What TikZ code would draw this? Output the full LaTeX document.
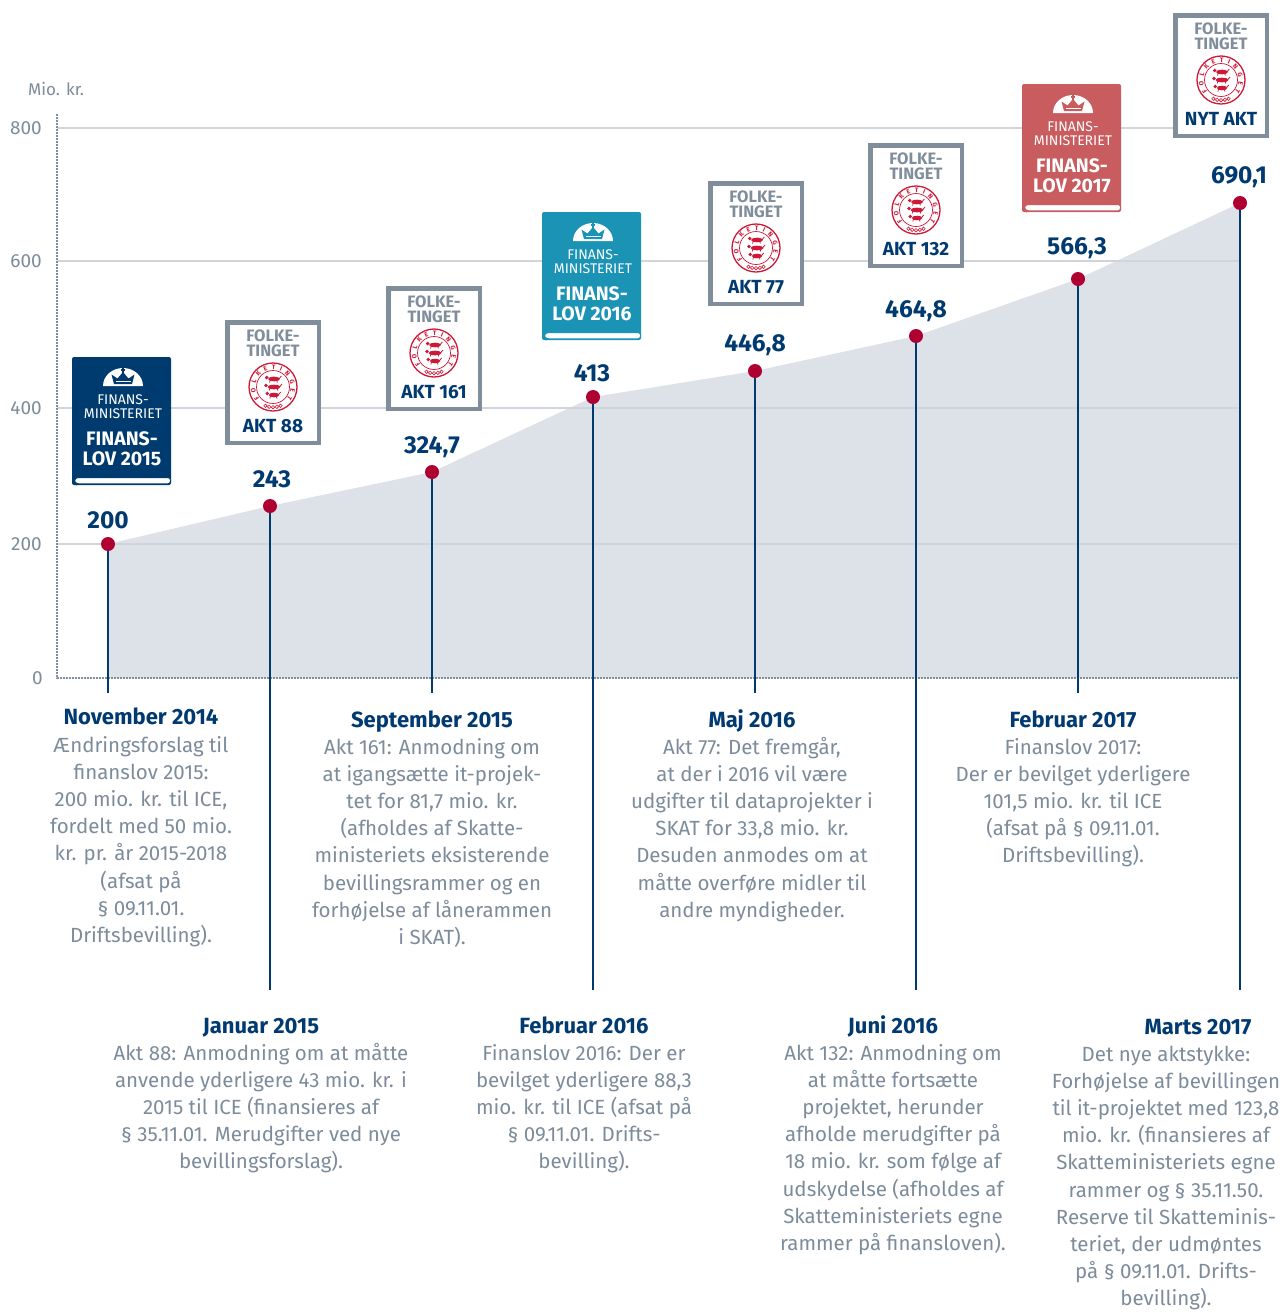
\documentclass[tikz,border=0pt]{standalone}
\usepackage{fontspec}
\setmainfont{Fira Sans}
\usetikzlibrary{decorations.text}
\definecolor{navy}{RGB}{0,58,112}
\definecolor{greytext}{RGB}{125,140,155}
\definecolor{dotred}{RGB}{175,0,50}
\definecolor{areafill}{RGB}{221,225,232}
\definecolor{gridc}{RGB}{208,213,220}
\definecolor{frame}{RGB}{128,142,156}
\definecolor{bookdark}{RGB}{0,59,111}
\definecolor{bookteal}{RGB}{27,147,181}
\definecolor{bookred}{RGB}{200,92,95}
\definecolor{sealred}{RGB}{205,25,55}
\tikzset{
  body/.style={font=\fontsize{20.5}{27.2}\selectfont, text=greytext, align=center, inner sep=0pt, anchor=base},
  ttl/.style={font=\fontsize{22}{24}\selectfont\bfseries, text=navy, inner sep=0pt, anchor=base},
  val/.style={font=\fontsize{24.5}{26}\selectfont\bfseries, text=navy, inner sep=0pt, anchor=base},
  axl/.style={font=\fontsize{19}{20}\selectfont, text=greytext, inner sep=0pt, anchor=base east},
  stem/.style={navy, line width=2.4pt},
  dot/.style={circle, fill=dotred, inner sep=0pt, minimum size=14pt},
  gridline/.style={gridc, line width=1.6pt},
  axisdot/.style={frame, line width=2.2pt, dash pattern=on 1.6pt off 1.4pt},
  bktxt/.style={font=\fontsize{14}{14}\selectfont, text=white, align=center, inner sep=0pt, anchor=base},
  bkbold/.style={font=\fontsize{19.5}{19.5}\selectfont\bfseries, text=white, align=center, inner sep=0pt, anchor=base},
  fttxt/.style={font=\fontsize{16.5}{14.8}\selectfont\bfseries, text=frame, align=center, inner sep=0pt, anchor=base},
  akttxt/.style={font=\fontsize{19}{20}\selectfont\bfseries, text=navy, inner sep=0pt, anchor=base},
}
% book icon: x, y, colour, year, name
\newcommand{\fmbook}[5]{%
\begin{scope}[shift={(#1,#2)}]
  \fill[#3, rounded corners=2pt] (0,0) rectangle (99,128);
  \filldraw[fill=white, draw=#3, line width=1pt, rounded corners=2.5pt] (98.5,120.5) -- (4,120.5) -- (2,123.7) -- (4,126.8) -- (98.5,126.8) -- cycle;
  \fill[white] (31,29) arc[start angle=180, end angle=360, x radius=20, y radius=18] -- cycle;
  \fill[#3] (42,27) -- (39.5,17.5) -- (45.5,21.5) -- (51,15) -- (56.5,21.5) -- (62.5,17.5) -- (60,27) -- cycle;
  \fill[white] (43.5,23.5) rectangle (58.5,24.6);
  \fill[#3] (50.3,11) rectangle (51.7,16);
  \fill[#3] (49,12.4) rectangle (53,13.6);
  \node[bktxt] (#5a) at (51,61) {FINANS-\\MINISTERIET};
  \node[bkbold] (#5b) at (50,108) {FINANS-\\LOV #4};
\end{scope}}
% seal of Folketinget
\newcommand{\seal}[2]{%
\begin{scope}[shift={(#1,#2)}]
  \draw[sealred, line width=1.3pt] (0,0) circle[radius=24];
  \draw[sealred, line width=0.7pt] (0,0) circle[radius=16.5];
  \path[decorate, decoration={text along path, text align=fit to path, text color=sealred,
     text={|\fontsize{6.5}{6.5}\selectfont\bfseries|FOLKETINGET}}]
     (140:17.6) arc[start angle=140, end angle=400, radius=17.6];
  \foreach \a in {68,79,90,101,112} \draw[sealred, line width=0.6pt] (\a:20.2) circle[radius=1.7];
  \foreach \yy/\w in {-8/9,0/10,8/8}{
    \fill[sealred] (1,\yy) ellipse[x radius=\w*0.65, y radius=2.3];
    \fill[sealred] (-\w*0.65-0.5,\yy-1.5) circle[radius=1.9];
    \draw[sealred, line width=0.8pt] (\w*0.65,\yy) -- (\w*0.65+2.5,\yy-3);
    \draw[sealred, line width=0.7pt] (-\w*0.3,\yy+1) -- (-\w*0.3-0.8,\yy+3.5);
    \draw[sealred, line width=0.7pt] (\w*0.4,\yy+1) -- (\w*0.4+0.8,\yy+3.5);
  }
\end{scope}}
% Folketinget box: x, y, label, name
\newcommand{\ftbox}[4]{%
\begin{scope}[shift={(#1,#2)}]
  \filldraw[fill=white, draw=frame, line width=4.5pt] (2.25,2.25) rectangle (93.75,122.75);
  \node[fttxt] (#4a) at (48,36) {FOLKE-\\TINGET};
  \seal{48}{67}
  \node[akttxt] (#4b) at (48,112.5) {#3};
\end{scope}}
\begin{document}
\begin{tikzpicture}[x=1pt,y=-1pt]
\useasboundingbox (0,0) rectangle (1282,1312);
\fill[white] (0,0) rectangle (1282,1312);
% data points
\coordinate (p1) at (108,544);
\coordinate (p2) at (270,506);
\coordinate (p3) at (432,472);
\coordinate (p4) at (593,397);
\coordinate (p5) at (755,371);
\coordinate (p6) at (916,336);
\coordinate (p7) at (1078,279);
\coordinate (p8) at (1240,203);
\coordinate (b1) at (108,678);
\coordinate (b8) at (1240,678);
% area
\fill[areafill] (b1) -- (p1) -- (p2) -- (p3) -- (p4) -- (p5) -- (p6) -- (p7) -- (p8) -- (b8) -- cycle;
% grid
\foreach \yy in {128,261,408,544} \draw[gridline] (57,\yy) -- (1240,\yy);
\draw[axisdot] (57,114) -- (57,678) -- (1240,678);
% axis labels
\node[font=\fontsize{17}{20}\selectfont, text=greytext, inner sep=0pt, anchor=base west] (unit) at (28,95) {Mio. kr.};
\node[axl] (a800) at (42,134.5) {800};
\node[axl] (a600) at (42,267.5) {600};
\node[axl] (a400) at (42,414.5) {400};
\node[axl] (a200) at (42,550.5) {200};
\node[axl] (a0) at (43,684.5) {0};
% stems
\coordinate (e1) at (108,693);
\coordinate (e2) at (270,990);
\coordinate (e3) at (432,693);
\coordinate (e4) at (593,990);
\coordinate (e5) at (755,693);
\coordinate (e6) at (916,990);
\coordinate (e7) at (1078,693);
\coordinate (e8) at (1240,990);
\foreach \i in {1,...,8} \draw[stem] (p\i) -- (e\i);
\foreach \i in {1,...,8} \node[dot] (d\i) at (p\i) {};
% values
\node[val] (v1) at (108,528.5) {200};
\node[val] (v2) at (272,487.5) {243};
\node[val] (v3) at (432,453.5) {324,7};
\node[val] (v4) at (592,381.5) {413};
\node[val] (v5) at (755,351.5) {446,8};
\node[val] (v6) at (916,317.5) {464,8};
\node[val] (v7) at (1077,254.5) {566,3};
\node[val] (v8) at (1239,183.5) {690,1};
% icons
\fmbook{72}{357}{bookdark}{2015}{fl15}
\ftbox{225}{320}{AKT 88}{ak88}
\ftbox{386}{286}{AKT 161}{ak161}
\fmbook{542}{212}{bookteal}{2016}{fl16}
\ftbox{708}{181}{AKT 77}{ak77}
\ftbox{868}{143}{AKT 132}{ak132}
\fmbook{1022}{84}{bookred}{2017}{fl17}
\ftbox{1173}{13}{NYT AKT}{aknyt}
% upper texts (anchor = baseline of last line)
\node[ttl] (t1) at (141,724) {November 2014};
\node[body] (b1t) at (141,942.4) {Ændringsforslag til\\finanslov 2015:\\200 mio. kr. til ICE,\\fordelt med 50 mio.\\kr. pr. år 2015-2018\\(afsat på\\§ 09.11.01.\\Driftsbevilling).};
\node[ttl] (t3) at (432,727) {September 2015};
\node[body] (b3t) at (432,944.4) {Akt 161: Anmodning om\\at igangsætte it-projek-\\tet for 81,7 mio. kr.\\(afholdes af Skatte-\\ministeriets eksisterende\\bevillingsrammer og en\\forhøjelse af lånerammen\\i SKAT).};
\node[ttl] (t5) at (752,727) {Maj 2016};
\node[body] (b5t) at (752,917.2) {Akt 77: Det fremgår,\\at der i 2016 vil være\\udgifter til dataprojekter i\\SKAT for 33,8 mio. kr.\\Desuden anmodes om at\\måtte overføre midler til\\andre myndigheder.};
\node[ttl] (t7) at (1073,727) {Februar 2017};
\node[body] (b7t) at (1073,862.8) {Finanslov 2017:\\Der er bevilget yderligere\\101,5 mio. kr. til ICE\\(afsat på § 09.11.01.\\Driftsbevilling).};
% lower texts
\node[ttl] (t2) at (261,1033) {Januar 2015};
\node[body] (b2t) at (261,1168.8) {Akt 88: Anmodning om at måtte\\anvende yderligere 43 mio. kr. i\\2015 til ICE (finansieres af\\§ 35.11.01. Merudgifter ved nye\\bevillingsforslag).};
\node[ttl] (t4) at (584,1033) {Februar 2016};
\node[body] (b4t) at (584,1168.8) {Finanslov 2016: Der er\\bevilget yderligere 88,3\\mio. kr. til ICE (afsat på\\§ 09.11.01. Drifts-\\bevilling).};
\node[ttl] (t6) at (893,1033) {Juni 2016};
\node[body] (b6t) at (893,1250.4) {Akt 132: Anmodning om\\at måtte fortsætte\\projektet, herunder\\afholde merudgifter på\\18 mio. kr. som følge af\\udskydelse (afholdes af\\Skatteministeriets egne\\rammer på finansloven).};
\node[ttl] (t8) at (1198,1034) {Marts 2017};
\node[body] (b8t) at (1166,1305.8) {Det nye aktstykke:\\Forhøjelse af bevillingen\\til it-projektet med 123,8\\mio. kr. (finansieres af\\Skatteministeriets egne\\rammer og § 35.11.50.\\Reserve til Skatteminis-\\teriet, der udmøntes\\på § 09.11.01. Drifts-\\bevilling).};
\end{tikzpicture}
\end{document}
